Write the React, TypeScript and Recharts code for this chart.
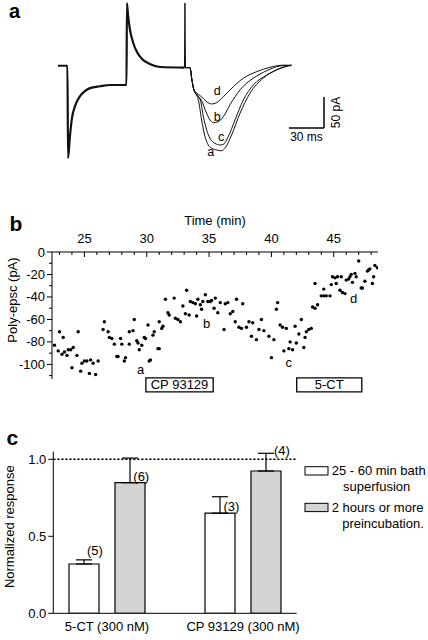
import React from 'react';
import {
  ComposedChart,
  BarChart,
  Line,
  Scatter,
  Bar,
  XAxis,
  YAxis,
  ReferenceLine,
  ReferenceArea,
  ErrorBar,
  LabelList,
  Label,
} from 'recharts';

const FONT = "'Liberation Sans', Arial, Helvetica, sans-serif";

// ---------- Panel a : current traces (time in ms, current in pA) ----------
const preTraceRaw: [number, number][] = [
  [0, 0], [8.1, 0], [8.6, -149], [10.3, -112], [12, -84], [14.6, -65], [18.9, -49],
  [23, -41], [27.4, -36], [36, -33], [44.6, -31], [58.7, -31], [59.1, 101], [60, 82],
  [61.7, 58], [64.3, 38], [67.7, 22], [72, 11], [78.8, 3], [87.4, -2], [108.4, -3],
];
const stimTraceRaw: [number, number][] = [[108.4, -3], [108.8, 101], [109.3, -3]];
const traceDRaw: [number, number][] = [
  [109.3, -3], [113.1, -3], [114.8, -23], [116.5, -39], [118.9, -44], [123, -50], [127.4, -58],
  [131.7, -61.5], [136, -59.5], [141.7, -50], [150.3, -33.7], [158.9, -20], [170.3, -9.5],
  [181.7, -2.5], [193, 1], [200, 0],
];
const traceBRaw: [number, number][] = [
  [109.3, -3], [113.1, -3], [114.8, -23], [116.5, -39], [118.9, -46], [123, -56], [127.4, -76.6],
  [130.3, -87.4], [133.1, -91.7], [137.4, -90.2], [141.7, -82], [147.4, -63], [156, -39],
  [167.4, -20], [178.9, -8], [190.2, -0.3], [200, 1],
];
const traceCRaw: [number, number][] = [
  [109.3, -3], [113.1, -3], [114.8, -23], [116.5, -39], [118.9, -47], [122, -55], [124.6, -82],
  [127.4, -103.5], [130.3, -117], [134.6, -125], [138.8, -127.7], [141.7, -126.6], [146, -114],
  [151.7, -87.4], [158.9, -55], [167.4, -31], [178.9, -15], [190.3, -4], [200, 1],
];
const traceARaw: [number, number][] = [
  [109.3, -3], [113.1, -3], [114.8, -23], [116.5, -39], [118.9, -48], [120.3, -55], [123.1, -87.4],
  [126, -114], [128.8, -127.7], [131.7, -133], [136, -135.8], [140.3, -137], [143.1, -133],
  [148.8, -111.6], [156, -76.6], [164.5, -44.4], [175.9, -20], [187.4, -6.8], [200, 1],
];
const traceLabelNames = ['d', 'b', 'c', 'a'];
const traceLabelT = [136.5, 136.5, 139.8, 130.9];
const traceLabelV = [-40, -82, -114.2, -138.4];

// ---------- Panel b : poly-epsc vs time ----------
const scatterRaw: [number, number][] = [
  [22.6, -83], [22.9, -88], [23.0, -71], [23.2, -91], [23.3, -76], [23.4, -89], [23.6, -92],
  [23.7, -87], [23.9, -87], [24.0, -103], [24.1, -85], [24.4, -92], [24.5, -71], [24.7, -106],
  [24.8, -99], [25.0, -97], [25.2, -97], [25.4, -108], [25.5, -96], [25.7, -99], [25.9, -109],
  [26.1, -97],
  [26.5, -69], [26.6, -62], [26.9, -71], [27.0, -76], [27.2, -77], [27.4, -82], [27.6, -93],
  [27.7, -93], [27.9, -77], [28.0, -82], [28.2, -97], [28.3, -94], [28.6, -71], [28.6, -82],
  [28.9, -70], [29.0, -60], [29.2, -79], [29.3, -81], [29.4, -87], [29.6, -83], [29.8, -76],
  [29.9, -77], [30.1, -65], [30.2, -97], [30.3, -96], [30.5, -74], [30.6, -71], [30.9, -86],
  [31.0, -86], [31.0, -62], [31.2, -68], [31.3, -66], [31.5, -42], [31.7, -54], [31.8, -56],
  [32.2, -41], [32.3, -59], [32.5, -60], [32.7, -62], [32.9, -48], [33.1, -55], [33.2, -34],
  [33.4, -56], [33.5, -44], [33.7, -45], [33.9, -46], [34.0, -57], [34.1, -42], [34.3, -47],
  [34.4, -51], [34.5, -44], [34.7, -38], [34.9, -44], [35.1, -44], [35.2, -43], [35.4, -50],
  [35.5, -41], [35.7, -54], [35.9, -45], [36.2, -69], [36.3, -46], [36.5, -45], [36.7, -55],
  [36.9, -53], [37.1, -62], [37.2, -42], [37.4, -67], [37.6, -68], [37.7, -46], [38.0, -67],
  [38.2, -62], [38.4, -75], [38.5, -63], [38.8, -78], [39.0, -69], [39.2, -60], [39.4, -70],
  [39.8, -75], [40.0, -94], [40.2, -78], [40.4, -51], [40.5, -45], [40.7, -65],
  [40.9, -67], [41.0, -88], [41.2, -68], [41.4, -86], [41.5, -80], [41.7, -87], [41.9, -66],
  [42.0, -81], [42.2, -73],
  [42.4, -60], [42.6, -85], [42.7, -76], [42.8, -71], [43.0, -69], [43.2, -68], [43.3, -49],
  [43.5, -50], [43.7, -47], [43.5, -28], [44.0, -39], [44.2, -33], [44.2, -39], [44.4, -39],
  [44.7, -39], [44.8, -29], [44.9, -22], [45.1, -23], [45.2, -28], [45.3, -22], [45.5, -34],
  [45.6, -22], [45.7, -36], [45.9, -37], [46.0, -25], [46.2, -24], [46.3, -22], [46.4, -20],
  [46.5, -27], [46.7, -19], [46.8, -22], [47.0, -8], [47.2, -32], [47.3, -32], [47.5, -26],
  [47.7, -17], [47.8, -16], [47.9, -15], [48.1, -28], [48.2, -22], [48.3, -12], [48.5, -14],
];
const pointLabelNames = ['a', 'b', 'c', 'd'];
const pointLabelT = [29.5, 34.8, 41.4, 46.6];
const pointLabelV = [-104.2, -63.7, -98.4, -41.5];
const xTicksB = [23, 24, 25, 26, 27, 28, 29, 30, 31, 32, 33, 34, 35, 36, 37, 38, 39, 40, 41, 42, 43, 44, 45, 46, 47, 48];
const yTicksB = [0, -10, -20, -30, -40, -50, -60, -70, -80, -90, -100, -110];
const drugNames = ['CP 93129', '5-CT'];
const drugStart = [29.93, 42.03];
const drugEnd = [35.33, 47.25];

// ---------- Panel c : normalized response ----------
const groups = ['5-CT (300 nM)', 'CP 93129 (300 nM)'];
const bathMean = [0.32, 0.65];
const bathSem = [0.027, 0.107];
const bathN = ['(5)', '(3)'];
const preMean = [0.848, 0.924];
const preSem = [0.16, 0.115];
const preN = ['(6)', '(4)'];
const yTicksC = [0, 0.5, 1];

const toPts = (arr: [number, number][]) => arr.map(([t, v]) => ({ t, v }));
const preTrace = toPts(preTraceRaw);
const stimTrace = toPts(stimTraceRaw);
const traceA = toPts(traceARaw);
const traceB = toPts(traceBRaw);
const traceC = toPts(traceCRaw);
const traceD = toPts(traceDRaw);
const traceLabels = traceLabelNames.map((name, i) => ({ name, t: traceLabelT[i], v: traceLabelV[i] }));
const scatterB = toPts(scatterRaw);
const pointLabels = pointLabelNames.map((name, i) => ({ name, t: pointLabelT[i], v: pointLabelV[i] }));
const barData = groups.map((name, i) => ({
  name,
  bath: bathMean[i],
  bathErr: [0, bathSem[i]],
  bathN: bathN[i],
  pre: preMean[i],
  preErr: [0, preSem[i]],
  preN: preN[i],
}));

const countLabelOffset: Record<string, [number, number]> = {
  '(5)': [3, -9],
  '(3)': [3.5, -2],
  '(6)': [3.3, -2],
  '(4)': [8, -16],
};

const XTickB = (p: any) => {
  const { x, y, payload } = p;
  const major = payload.value % 5 === 0;
  return (
    <g>
      <line x1={x} y1={y} x2={x} y2={y + (major ? 5 : 3)} stroke="#000" strokeWidth={1} />
      {major && (
        <text x={x} y={y - 9.5} textAnchor="middle" fontSize={13} fontFamily={FONT} fill="#000">
          {payload.value}
        </text>
      )}
    </g>
  );
};

const YTickB = (p: any) => {
  const { x, y, payload } = p;
  const major = Math.abs(payload.value) % 20 === 0;
  return (
    <g>
      <line x1={x} y1={y} x2={x - (major ? 5 : 3)} y2={y} stroke="#000" strokeWidth={1} />
      {major && (
        <text x={x - 7} y={y + 4.5} textAnchor="end" fontSize={13} fontFamily={FONT} fill="#000">
          {payload.value}
        </text>
      )}
    </g>
  );
};

const textShape = (size: number) => (p: any) => (
  <text x={p.cx} y={p.cy + size * 0.36} textAnchor="middle" fontSize={size} fontFamily={FONT} fill="#000">
    {p.payload.name}
  </text>
);

const dotShape = (p: any) => <circle cx={p.cx} cy={p.cy} r={1.7} fill="#000" />;

const countLabel = (p: any) => {
  const off = countLabelOffset[p.value] || [3, -3];
  return (
    <text x={p.x + p.width / 2 + off[0]} y={p.y + off[1]} fontSize={13} fontFamily={FONT} fill="#000">
      {p.value}
    </text>
  );
};

export default function App() {
  return (
    <div style={{ position: 'absolute', left: 0, top: 0, width: 428, height: 640, background: '#fff', fontFamily: FONT }}>
      {/* Panel a */}
      <ComposedChart
        width={428}
        height={180}
        margin={{ top: 0, right: 90, bottom: 10, left: 58 }}
        style={{ position: 'absolute', left: 0, top: 0 }}
      >
        <XAxis type="number" dataKey="t" domain={[0, 240]} hide allowDataOverflow />
        <YAxis type="number" dataKey="v" domain={[-168, 106]} hide allowDataOverflow />
        <Line data={preTrace} dataKey="v" type="monotone" stroke="#111" strokeWidth={2.2} dot={false} isAnimationActive={false} />
        <Line data={stimTrace} dataKey="v" type="linear" stroke="#111" strokeWidth={1} dot={false} isAnimationActive={false} />
        <Line data={traceD} dataKey="v" type="monotone" stroke="#111" strokeWidth={1} dot={false} isAnimationActive={false} />
        <Line data={traceB} dataKey="v" type="monotone" stroke="#111" strokeWidth={1} dot={false} isAnimationActive={false} />
        <Line data={traceC} dataKey="v" type="monotone" stroke="#111" strokeWidth={1} dot={false} isAnimationActive={false} />
        <Line data={traceA} dataKey="v" type="monotone" stroke="#111" strokeWidth={1} dot={false} isAnimationActive={false} />
        <Scatter data={traceLabels} dataKey="v" shape={textShape(12.5)} isAnimationActive={false} />
        <ReferenceLine
          segment={[{ x: 198, y: -100.3 }, { x: 228, y: -100.3 }]}
          stroke="#000"
          strokeWidth={1.5}
          label={(lp: any) => {
            const vb = lp.viewBox || {};
            return (
              <text x={vb.x + (vb.width || 0) / 2} y={vb.y + 13.5} textAnchor="middle" fontSize={12} fontFamily={FONT} fill="#000">
                30 ms
              </text>
            );
          }}
        />
        <ReferenceLine
          segment={[{ x: 228, y: -100.3 }, { x: 228, y: -50.3 }]}
          stroke="#000"
          strokeWidth={1.5}
          label={(lp: any) => {
            const vb = lp.viewBox || {};
            const cx = vb.x + 16;
            const cy = vb.y + (vb.height || 0) / 2;
            return (
              <text x={cx} y={cy} transform={`rotate(-90 ${cx} ${cy})`} textAnchor="middle" fontSize={12} fontFamily={FONT} fill="#000">
                50 pA
              </text>
            );
          }}
        />
      </ComposedChart>

      {/* Panel b */}
      <ComposedChart
        width={428}
        height={205}
        margin={{ top: 12, right: 50, bottom: 26, left: 12 }}
        style={{ position: 'absolute', left: 0, top: 200 }}
      >
        <XAxis
          type="number"
          dataKey="t"
          orientation="top"
          domain={[22.4, 48.55]}
          allowDataOverflow
          ticks={xTicksB}
          interval={0}
          tickSize={0}
          tickMargin={0}
          height={40}
          tick={(p: any) => <XTickB {...p} />}
          axisLine={{ stroke: '#000', strokeWidth: 1 }}
          tickLine={false}
        >
          <Label
            content={() => (
              <text x={215} y={25} textAnchor="middle" fontSize={13} fontFamily={FONT} fill="#000">
                Time (min)
              </text>
            )}
          />
        </XAxis>
        <YAxis
          type="number"
          dataKey="v"
          domain={[-113, 0]}
          allowDataOverflow
          ticks={yTicksB}
          interval={0}
          tickSize={0}
          tickMargin={0}
          width={40}
          tick={(p: any) => <YTickB {...p} />}
          axisLine={{ stroke: '#000', strokeWidth: 1 }}
          tickLine={false}
        >
          <Label
            content={() => (
              <text x={17} y={100} transform="rotate(-90 17 100)" textAnchor="middle" fontSize={13} fontFamily={FONT} fill="#000">
                Poly-epsc (pA)
              </text>
            )}
          />
        </YAxis>
        <Scatter data={scatterB} dataKey="v" shape={dotShape} isAnimationActive={false} />
        <Scatter data={pointLabels} dataKey="v" shape={textShape(13)} isAnimationActive={false} />
        {drugNames.map((name, i) => (
          <ReferenceArea
            key={name}
            x1={drugStart[i]}
            x2={drugEnd[i]}
            y1={-112}
            y2={-124.4}
            ifOverflow="visible"
            fill="#fff"
            fillOpacity={1}
            stroke="#000"
            strokeWidth={1.3}
            label={<Label value={name} position="center" fill="#000" fontSize={13} fontFamily={FONT} />}
          />
        ))}
      </ComposedChart>

      {/* Panel c */}
      <BarChart
        width={428}
        height={220}
        data={barData}
        margin={{ top: 31.6, right: 131.3, bottom: 0, left: 13.3 }}
        barSize={30}
        barGap={16}
        style={{ position: 'absolute', left: 0, top: 420 }}
      >
        <XAxis
          dataKey="name"
          padding={{ left: -14.3, right: -14.3 }}
          tickLine={false}
          axisLine={{ stroke: '#000', strokeWidth: 1 }}
          height={26.7}
          interval={0}
          tick={{ fill: '#000', fontSize: 13, fontFamily: FONT }}
        />
        <YAxis
          type="number"
          domain={[0, 1.05]}
          allowDataOverflow
          ticks={yTicksC}
          interval={0}
          width={40}
          tickSize={5}
          tickMargin={2}
          tickFormatter={(v: number) => v.toFixed(1)}
          tick={{ fill: '#000', fontSize: 13, fontFamily: FONT }}
          axisLine={{ stroke: '#000', strokeWidth: 1 }}
          tickLine={{ stroke: '#000' }}
        >
          <Label
            content={() => (
              <text x={14.5} y={106.7} transform="rotate(-90 14.5 106.7)" textAnchor="middle" fontSize={13} fontFamily={FONT} fill="#000">
                Normalized response
              </text>
            )}
          />
        </YAxis>
        <ReferenceLine y={1} stroke="#000" strokeWidth={1.6} strokeDasharray="2.2 1.8" />
        <Bar dataKey="bath" fill="#fff" stroke="#000" strokeWidth={1.2} isAnimationActive={false}>
          <ErrorBar dataKey="bathErr" width={8} stroke="#000" strokeWidth={1.2} direction="y" />
          <LabelList dataKey="bathN" content={countLabel} />
        </Bar>
        <Bar dataKey="pre" fill="#d4d4d4" stroke="#000" strokeWidth={1.2} isAnimationActive={false}>
          <ErrorBar dataKey="preErr" width={8} stroke="#000" strokeWidth={1.2} direction="y" />
          <LabelList dataKey="preN" content={countLabel} />
        </Bar>
      </BarChart>

      {/* Panel letters and legend */}
      <svg width={428} height={640} style={{ position: 'absolute', left: 0, top: 0, pointerEvents: 'none' }}>
        <text x={9} y={18} fontSize={20} fontWeight="bold" fontFamily={FONT} fill="#000">a</text>
        <text x={9.5} y={230.5} fontSize={21} fontWeight="bold" fontFamily={FONT} fill="#000">b</text>
        <text x={6.5} y={445} fontSize={21} fontWeight="bold" fontFamily={FONT} fill="#000">c</text>
        <rect x={305} y={466.7} width={23} height={8.3} fill="#fff" stroke="#000" strokeWidth={1} />
        <text x={331.7} y={475} fontSize={13} fontFamily={FONT} fill="#000">25 - 60 min bath</text>
        <text x={376.7} y={491} textAnchor="middle" fontSize={13} fontFamily={FONT} fill="#000">superfusion</text>
        <rect x={305} y={503.3} width={23} height={8.3} fill="#d4d4d4" stroke="#000" strokeWidth={1} />
        <text x={331.7} y={512} fontSize={13} fontFamily={FONT} fill="#000">2 hours or more</text>
        <text x={383} y={528} textAnchor="middle" fontSize={13} fontFamily={FONT} fill="#000">preincubation.</text>
      </svg>
    </div>
  );
}
